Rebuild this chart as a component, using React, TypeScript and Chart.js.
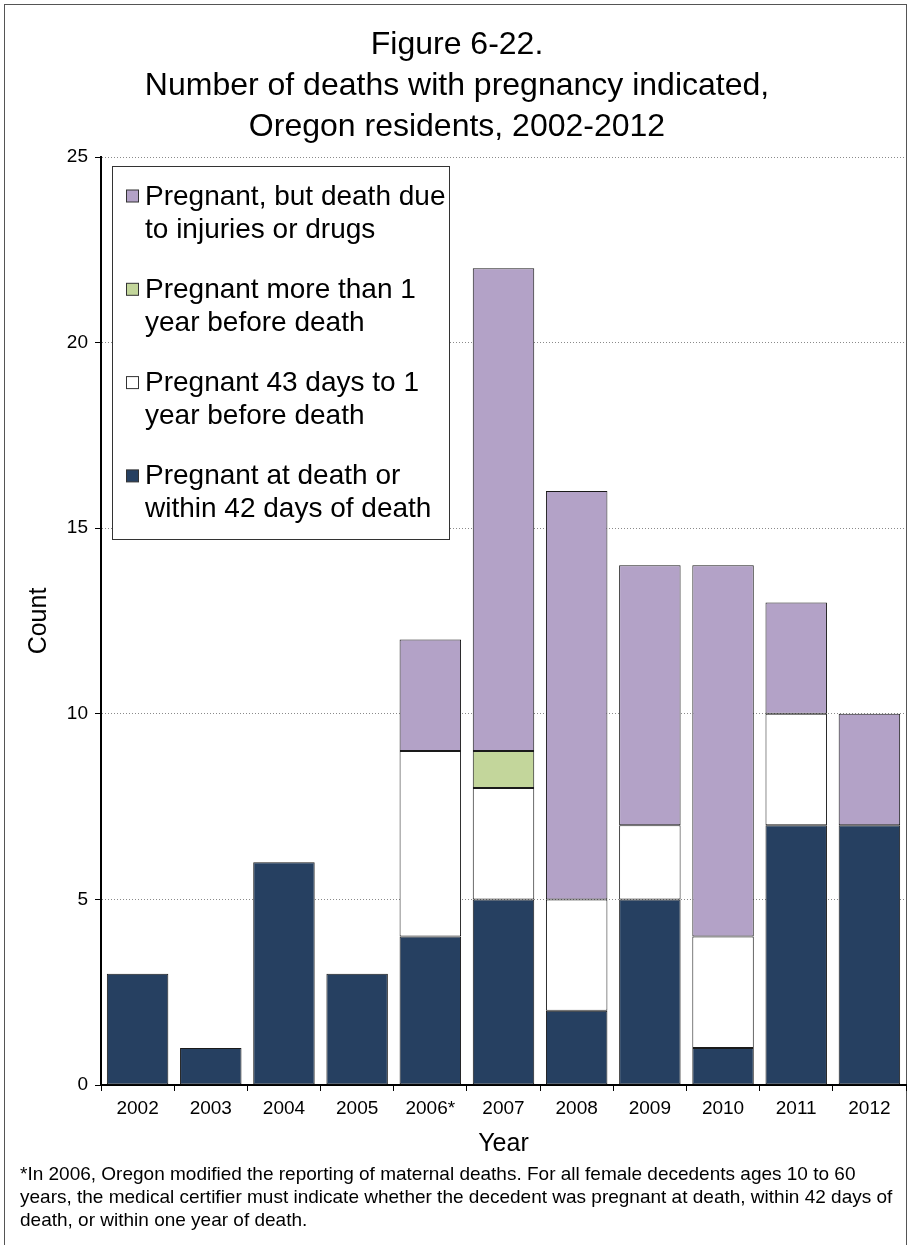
import React, { useEffect, useRef } from "react";
import { Chart, registerables } from "chart.js";

Chart.register(...registerables);

const FONT = '"Liberation Sans", Arial, sans-serif';

const years = ["2002", "2003", "2004", "2005", "2006*", "2007", "2008", "2009", "2010", "2011", "2012"];
const atDeathOr42Days = [3, 1, 6, 3, 4, 5, 2, 5, 1, 7, 7];
const days43To1Year = [null, null, null, null, 5, 3, 3, 2, 3, 3, null];
const moreThan1Year = [null, null, null, null, null, 1, null, null, null, null, null];
const injuriesOrDrugs = [null, null, null, null, 3, 13, 11, 7, 10, 3, 3];

const yMin = 0;
const yMax = 25;
const yStep = 5;

const titleLines = [
  "Figure 6-22.",
  "Number of deaths with pregnancy indicated,",
  "Oregon residents, 2002-2012",
];
const yAxisTitle = "Count";
const xAxisTitle = "Year";
const footnoteLines = [
  "*In 2006, Oregon modified the reporting of maternal deaths. For all female decedents ages 10 to 60",
  "years, the medical certifier must indicate whether the decedent was pregnant at death, within 42 days of",
  "death, or within one year of death.",
];

const seriesNames = {
  atDeath: ["Pregnant at death or", "within 42 days of death"],
  days43: ["Pregnant 43 days to 1", "year before death"],
  more1: ["Pregnant more than 1", "year before death"],
  injuries: ["Pregnant, but death due", "to injuries or drugs"],
};

const colors = {
  atDeath: "#264061",
  days43: "#FFFFFF",
  more1: "#C3D69B",
  injuries: "#B3A2C7",
};

const W = 917;
const H = 1245;

const decorPlugin = {
  id: "decor",
  beforeDraw(chart: any) {
    const ctx = chart.ctx;
    ctx.save();
    ctx.fillStyle = "#fff";
    ctx.fillRect(0, 0, W, H);
    ctx.strokeStyle = "#555";
    ctx.lineWidth = 1;
    ctx.strokeRect(4.5, 4.5, 902, H + 10);
    ctx.restore();
  },
  afterDraw(chart: any) {
    const ctx = chart.ctx;
    const area = chart.chartArea;
    ctx.save();
    ctx.fillStyle = "#000";
    // Title
    ctx.font = `32px ${FONT}`;
    ctx.textAlign = "center";
    ctx.textBaseline = "alphabetic";
    const titleBase = [54, 95, 136];
    titleLines.forEach((t, i) => ctx.fillText(t, 457, titleBase[i]));
    // Axis titles
    ctx.font = `25px ${FONT}`;
    ctx.fillText(xAxisTitle, (area.left + area.right) / 2, 1151);
    ctx.save();
    ctx.translate(39, (area.top + area.bottom) / 2);
    ctx.rotate(-Math.PI / 2);
    ctx.textBaseline = "middle";
    ctx.fillText(yAxisTitle, 0, 0);
    ctx.restore();
    // Footnote
    ctx.font = `19px ${FONT}`;
    ctx.textAlign = "left";
    ctx.textBaseline = "alphabetic";
    const fnBase = [1180, 1203, 1226];
    footnoteLines.forEach((t, i) => ctx.fillText(t, 20, fnBase[i]));

    // Legend
    const lx = 112.5, ly = 166.5, lw = 337, lh = 373;
    ctx.fillStyle = "#fff";
    ctx.fillRect(lx, ly, lw, lh);
    ctx.strokeStyle = "#333";
    ctx.lineWidth = 1;
    ctx.strokeRect(lx, ly, lw, lh);
    const items = [
      { label: seriesNames.injuries, color: colors.injuries },
      { label: seriesNames.more1, color: colors.more1 },
      { label: seriesNames.days43, color: colors.days43 },
      { label: seriesNames.atDeath, color: colors.atDeath },
    ];
    const swatchCenters = [196.5, 289.8, 383.1, 476.4];
    ctx.font = `28px ${FONT}`;
    items.forEach((it, i) => {
      const c = swatchCenters[i];
      ctx.fillStyle = it.color;
      ctx.fillRect(126.5, c - 6.5, 12, 12);
      ctx.strokeStyle = "#333";
      ctx.strokeRect(126.5, c - 6.5, 12, 12);
      ctx.fillStyle = "#000";
      it.label.forEach((ln, j) => ctx.fillText(ln, 145, c + 8 + j * 33));
    });
    ctx.restore();
  },
};

export default function App() {
  const ref = useRef<HTMLCanvasElement | null>(null);

  useEffect(() => {
    if (!ref.current) return;
    const common = { borderColor: "#1a1a1a", borderWidth: 1, borderSkipped: false, barPercentage: 0.84, categoryPercentage: 1 };
    const chart = new Chart(ref.current, {
      type: "bar",
      data: {
        labels: years,
        datasets: [
          { label: seriesNames.atDeath.join(" "), data: atDeathOr42Days, backgroundColor: colors.atDeath, ...common },
          { label: seriesNames.days43.join(" "), data: days43To1Year, backgroundColor: colors.days43, ...common },
          { label: seriesNames.more1.join(" "), data: moreThan1Year, backgroundColor: colors.more1, ...common },
          { label: seriesNames.injuries.join(" "), data: injuriesOrDrugs, backgroundColor: colors.injuries, ...common },
        ] as any,
      },
      options: {
        responsive: false,
        animation: false,
        devicePixelRatio: 1,
        layout: { padding: { left: 16, right: 11, top: 157, bottom: 125 } },
        plugins: {
          legend: { display: false },
          title: { display: false },
          tooltip: { enabled: false },
        },
        scales: {
          x: {
            stacked: true,
            afterFit: (s: any) => { s.height = 35; },
            grid: { display: true, drawOnChartArea: false, drawTicks: true, tickLength: 6, offset: true, color: "#000", tickColor: "#000" },
            border: { display: true, color: "#000", width: 2 },
            ticks: { color: "#000", font: { family: FONT, size: 19 }, padding: 6, maxRotation: 0 },
          },
          y: {
            stacked: true,
            min: yMin,
            max: yMax,
            afterFit: (s: any) => { s.width = 85; },
            grid: { color: "#8a8a8a", tickColor: "#000", tickLength: 6, tickBorderDash: [] },
            border: { display: true, color: "#000", width: 2, dash: [1, 2] },
            ticks: { stepSize: yStep, color: "#000", font: { family: FONT, size: 19 }, padding: 7 },
          },
        },
      } as any,
      plugins: [decorPlugin],
    });
    return () => chart.destroy();
  }, []);

  return (
    <div style={{ position: "absolute", left: 0, top: 0, width: W, height: H, background: "#fff" }}>
      <canvas ref={ref} width={W} height={H} style={{ display: "block", width: W, height: H }} />
    </div>
  );
}
